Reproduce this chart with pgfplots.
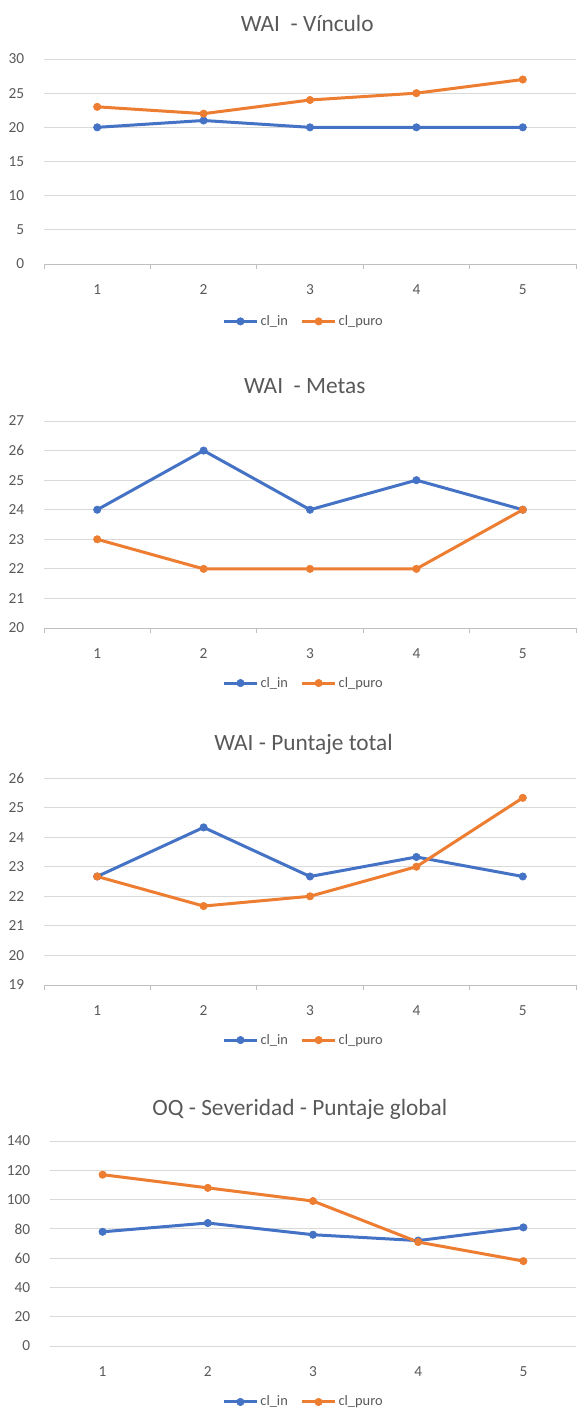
\documentclass[border=0pt]{standalone}
\usepackage{fontspec}
\setmainfont{Carlito}
\usepackage{pgfplots}
\pgfplotsset{compat=1.18}
\definecolor{cin}{HTML}{4472C4}
\definecolor{cpuro}{HTML}{ED7D31}
\definecolor{gridc}{HTML}{D9D9D9}
\definecolor{txt}{HTML}{595959}
\definecolor{axl}{HTML}{BFBFBF}
\pgfplotsset{
 excel/.style={
   scale only axis,
   anchor=south west,
   xmin=0.5, xmax=5.5,
   xtick={1,2,3,4,5},
   ymajorgrids, grid style={gridc, line width=0.75pt},
   axis x line*=bottom, axis y line*=left,
   y axis line style={draw=none},
   x axis line style={axl, line width=0.75pt, -},
   ytick style={draw=none},
   major x tick style={draw=none},
   minor xtick={0.5,1.5,2.5,3.5,4.5,5.5},
   minor x tick style={axl, line width=0.75pt},
   tick align=outside,
   minor tick length=3.75pt,
   tick label style={font=\fontsize{11.5}{13}\selectfont, text=txt},
   /pgf/number format/assume math mode=true,
   yticklabel style={xshift=-7pt},
   xticklabel style={yshift=-7.5pt},
   title style={font=\fontsize{17.5}{20}\selectfont, text=txt, anchor=base, yshift=15pt},
   legend style={draw=none, fill=none, legend columns=2, font=\fontsize{10.8}{13}\selectfont, text=txt, anchor=center,
     /tikz/every even column/.append style={column sep=8pt}, nodes={inner sep=1.5pt}},
   legend image code/.code={\draw[mark repeat=2,mark phase=2,##1] plot coordinates {(0pt,0pt) (12.4pt,0pt) (24.8pt,0pt)};},
   every axis plot/.append style={line width=2.25pt, mark=*, mark size=2.75pt, mark options={solid, line width=0.5pt}},
   legend entries={cl\_in, cl\_puro},
 }
}
\begin{document}
\begin{tikzpicture}
\useasboundingbox (0,0) rectangle (432pt,-1056.75pt);
% Chart 1
\begin{axis}[excel, at={(33pt,-198pt)}, width=399pt, height=153.75pt,
  ymin=0, ymax=30, ytick={0,5,...,30},
  title={WAI\ \ - Vínculo}, title style={at={(0.495,1)}},
  legend style={at={(0.488,-0.28)}}]
\addplot[cin] coordinates {(1,20) (2,21) (3,20) (4,20) (5,20)};
\addplot[cpuro] coordinates {(1,23) (2,22) (3,24) (4,25) (5,27)};
\end{axis}
% Chart 2
\begin{axis}[excel, at={(33pt,-471pt)}, width=399pt, height=155.25pt,
  ymin=20, ymax=27, ytick={20,21,...,27},
  title={WAI\ \ - Metas}, title style={at={(0.49,1)}},
  legend style={at={(0.488,-0.266)}}]
\addplot[cin] coordinates {(1,24) (2,26) (3,24) (4,25) (5,24)};
\addplot[cpuro] coordinates {(1,23) (2,22) (3,22) (4,22) (5,24)};
\end{axis}
% Chart 3
\begin{axis}[excel, at={(33pt,-738.75pt)}, width=399pt, height=155.25pt,
  ymin=19, ymax=26, ytick={19,20,...,26},
  title={WAI - Puntaje total}, title style={at={(0.488,1)}},
  legend style={at={(0.488,-0.266)}}]
\addplot[cin] coordinates {(1,22.67) (2,24.33) (3,22.67) (4,23.33) (5,22.67)};
\addplot[cpuro] coordinates {(1,22.67) (2,21.67) (3,22) (4,23) (5,25.33)};
\end{axis}
% Chart 4
\begin{axis}[excel, at={(37.5pt,-1009.5pt)}, width=394.5pt, height=153.75pt,
  ymin=0, ymax=140, ytick={0,20,...,140},
  x axis line style={gridc}, minor x tick style={draw=none},
  title={OQ - Severidad - Puntaje global}, title style={at={(0.475,1)}, yshift=-2pt},
  legend style={at={(0.482,-0.273)}}]
\addplot[cin] coordinates {(1,78) (2,84) (3,76) (4,72) (5,81)};
\addplot[cpuro] coordinates {(1,117) (2,108) (3,99) (4,71) (5,58)};
\end{axis}
\end{tikzpicture}
\end{document}
